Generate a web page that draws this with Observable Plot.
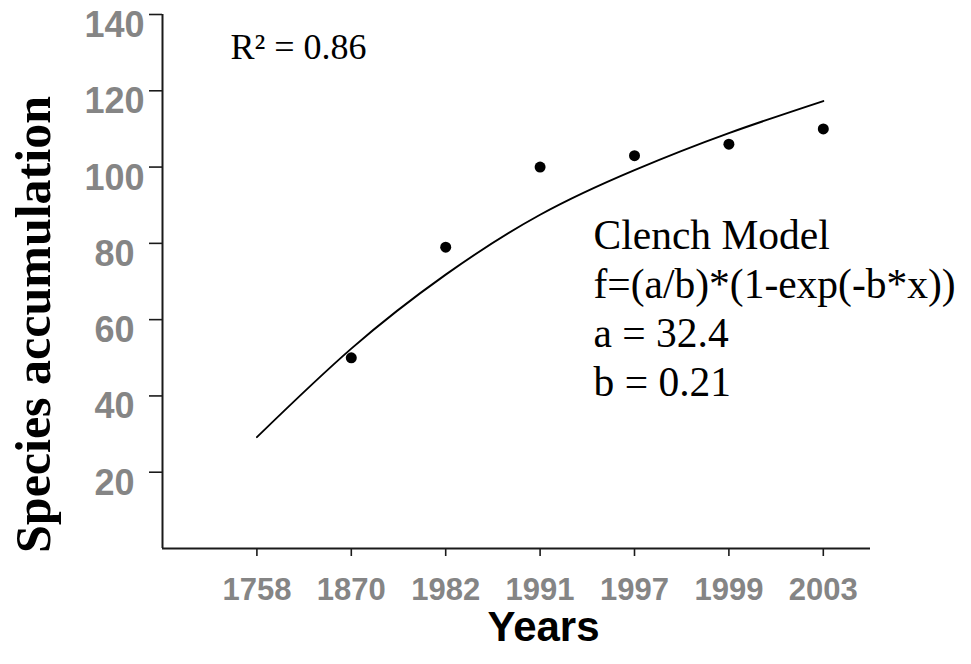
<!DOCTYPE html>
<html>
<head>
<meta charset="utf-8">
<script src="https://cdn.jsdelivr.net/npm/d3@7"></script>
<script src="https://cdn.jsdelivr.net/npm/@observablehq/plot@0.6"></script>
<style>
  html, body { margin: 0; padding: 0; background: #fff; }
</style>
</head>
<body>
<div id="chart"></div>
<script>
// ---- data ----
const years = ["1758", "1870", "1982", "1991", "1997", "1999", "2003"];
const observedYears = ["1870", "1982", "1991", "1997", "1999", "2003"];
const observedSpecies = [50, 79, 100, 103, 106, 110];
// fitted Clench curve, values at each year position
const curveSpecies = [29.2, 52.4, 71.8, 87.5, 99.2, 108.9, 117.3];
const yTicks = [20, 40, 60, 80, 100, 120, 140];
const r2Text = "R² = 0.86";
const modelText = "Clench Model\nf=(a/b)*(1-exp(-b*x))\na = 32.4\nb = 0.21";
const xTitle = "Years";
const yTitle = "Species accumulation";

const pos = (y) => years.indexOf(y) + 1;
const points = observedYears.map((y, i) => ({x: pos(y), v: observedSpecies[i]}));
const curve = years.map((y, i) => ({x: pos(y), v: curveSpecies[i]}));

const SANS = "Liberation Sans, Arial, sans-serif";
const SERIF = "Liberation Serif, Times New Roman, serif";
const AXIS = "#1a1a1a";
const LABEL = "#858585";

const chart = Plot.plot({
  width: 971,
  height: 664,
  marginLeft: 162,
  marginRight: 101,
  marginTop: 14,
  marginBottom: 116,
  x: {type: "linear", domain: [0, 7.5], axis: null},
  y: {domain: [0, 140], axis: null},
  marks: [
    // y tick marks (no labels)
    Plot.axisY({
      ticks: yTicks, tickSize: 13, tickFormat: () => "", label: null,
      stroke: AXIS, strokeWidth: 1.6
    }),
    // y tick labels, centred and sitting a little below each tick
    Plot.axisY({
      ticks: yTicks, tickSize: 0, tickPadding: 48, textAnchor: "middle", dy: 11, label: null,
      fill: LABEL, fontSize: 36, fontWeight: "bold", fontFamily: SANS
    }),
    Plot.axisX({
      ticks: years.map(pos), tickFormat: (d) => years[d - 1], tickSize: 8, tickPadding: 21, label: null,
      stroke: AXIS, strokeWidth: 1.6, fill: LABEL,
      fontSize: 31, fontWeight: "bold", fontFamily: SANS
    }),
    Plot.ruleX([0], {y1: 0, y2: 140, stroke: AXIS, strokeWidth: 2}),
    Plot.ruleY([0], {x1: 0, x2: 7.5, stroke: AXIS, strokeWidth: 2}),
    Plot.line(curve, {x: "x", y: "v", curve: "natural", stroke: "#000", strokeWidth: 1.9}),
    Plot.dot(points, {x: "x", y: "v", r: 5.5, fill: "#000", stroke: "none"}),
    Plot.text([r2Text], {
      frameAnchor: "top-left", textAnchor: "start", lineAnchor: "top", dx: 68, dy: 19,
      fontSize: 36, fontFamily: SERIF, fill: "#000"
    }),
    Plot.text([modelText], {
      frameAnchor: "top-left", textAnchor: "start", lineAnchor: "top", dx: 431, dy: 200,
      lineHeight: 1.18, fontSize: 41.5, fontFamily: SERIF, fill: "#000"
    }),
    Plot.text([xTitle], {
      frameAnchor: "bottom", textAnchor: "middle", lineAnchor: "top", dx: 27, dy: 63,
      fontSize: 42, fontWeight: "bold", fontFamily: SANS, fill: "#000"
    }),
    Plot.text([yTitle], {
      frameAnchor: "left", textAnchor: "middle", lineAnchor: "middle", rotate: -90, dx: -129, dy: 43,
      fontSize: 50, fontWeight: "bold", fontFamily: SERIF, fill: "#000"
    })
  ]
});
document.getElementById("chart").appendChild(chart);
</script>
</body>
</html>
